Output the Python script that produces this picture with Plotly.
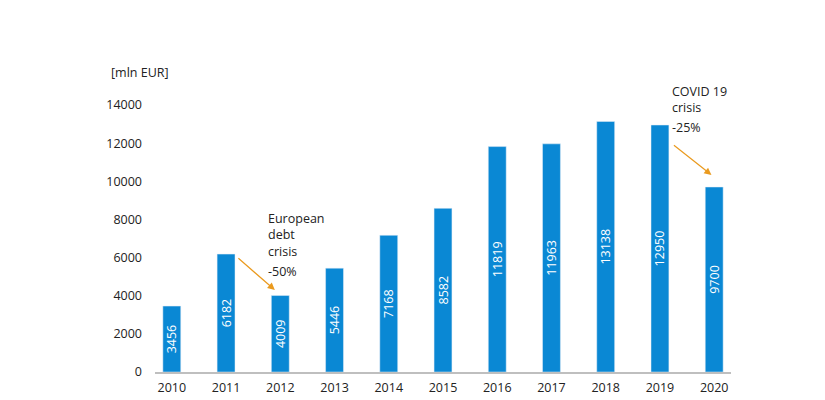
import plotly.graph_objects as go

years = ["2010", "2011", "2012", "2013", "2014", "2015", "2016", "2017", "2018", "2019", "2020"]
values = [3456, 6182, 4009, 5446, 7168, 8582, 11819, 11963, 13138, 12950, 9700]
y_ticks = [0, 2000, 4000, 6000, 8000, 10000, 12000, 14000]

FONT = "Open Sans"
BAR = "#0A88D4"
ORANGE = "#EA9A1E"
FS = 12.5

fig = go.Figure()
fig.add_trace(go.Bar(
    x=years, y=values, width=0.33, marker_color=BAR,
    text=[str(v) for v in values], textposition="inside", insidetextanchor="middle",
    textangle=-90, textfont=dict(color="white", size=FS, family=FONT),
    constraintext="none", cliponaxis=False,
))

fig.update_layout(
    width=825, height=400,
    margin=dict(l=147, r=102, t=97, b=36),
    paper_bgcolor="white", plot_bgcolor="white",
    font=dict(family=FONT, size=FS, color="#222"),
    showlegend=False,
    xaxis=dict(type="category", range=[-0.31, 10.31], showline=True, linecolor="#BFBFBF",
               linewidth=1.5, ticks="", showgrid=False, tickfont=dict(size=FS),
               ticklabelstandoff=3, automargin=False),
    yaxis=dict(range=[0, 14000], tickvals=y_ticks, ticktext=[str(t) for t in y_ticks],
               showgrid=False, zeroline=False, showline=False, ticks="",
               tickfont=dict(size=FS), ticklabelstandoff=12, automargin=False),
)

def note(text, x, y):
    fig.add_annotation(text=text, xref="x", yref="paper", x=x, y=y,
                       xanchor="left", yanchor="middle", align="left", showarrow=False,
                       font=dict(size=FS))

# y-axis unit
fig.add_annotation(text="[mln EUR]", xref="paper", yref="paper", x=-0.08, y=1.12,
                   xanchor="left", yanchor="middle", showarrow=False, font=dict(size=FS))

# European debt crisis
note("European<br>debt<br>crisis", 1.74, 0.513)
note("-50%", 1.74, 0.378)
fig.add_annotation(x=1.9, y=4300, ax=1.2, ay=6030, xref="x", yref="y", axref="x", ayref="y",
                   text="", showarrow=True, arrowhead=2, arrowsize=1.2, arrowwidth=1.2,
                   arrowcolor=ORANGE)

# COVID 19 crisis
note("COVID 19", 9.18, 1.052)
note("crisis", 9.18, 0.989)
note("-25%", 9.18, 0.914)
fig.add_annotation(x=9.95, y=10330, ax=9.23, ay=11950, xref="x", yref="y", axref="x", ayref="y",
                   text="", showarrow=True, arrowhead=2, arrowsize=1.2, arrowwidth=1.2,
                   arrowcolor=ORANGE)

fig.write_html("out.html")
